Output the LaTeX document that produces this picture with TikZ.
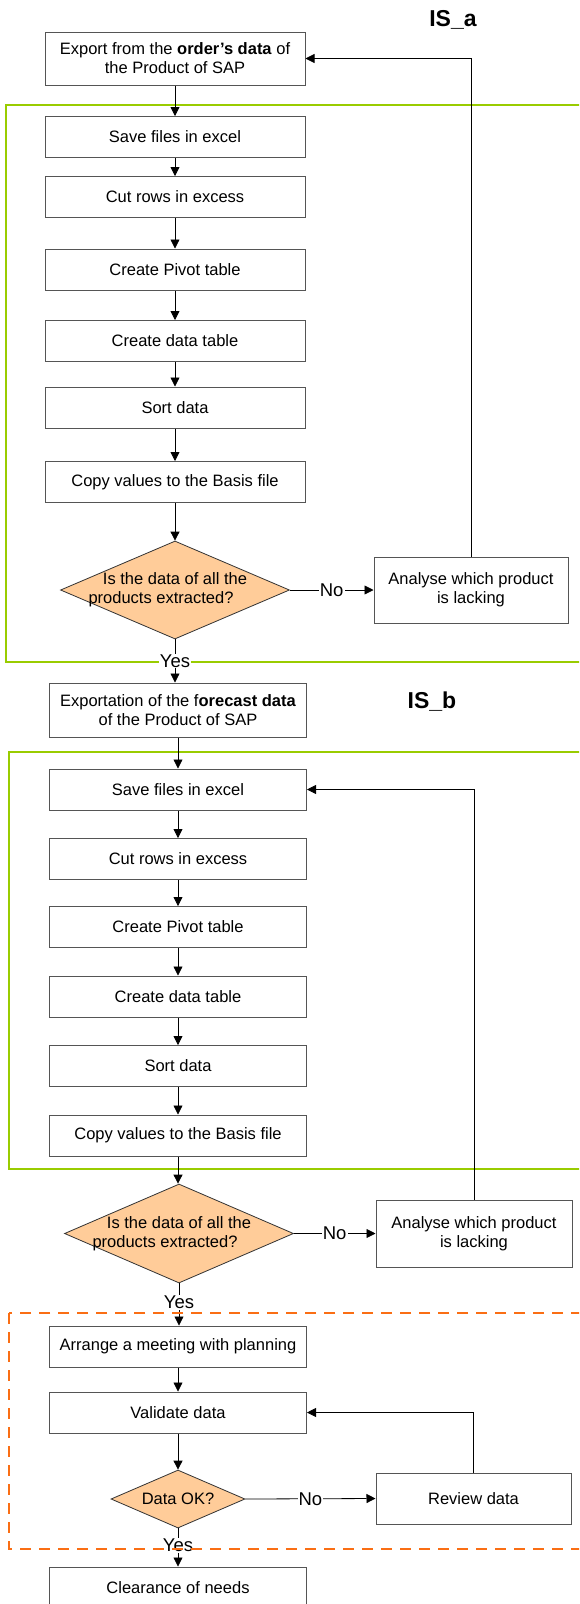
\documentclass[tikz,border=0pt]{standalone}
\usepackage{fontspec}
\setmainfont{Liberation Sans}
\usetikzlibrary{shapes.geometric,arrows.meta}
\definecolor{grn}{RGB}{153,204,0}
\definecolor{org}{RGB}{250,110,20}
\definecolor{peach}{RGB}{255,204,153}
\definecolor{boxline}{RGB}{85,85,85}
\begin{document}
\begin{tikzpicture}[x=1pt,y=-1pt,
  every node/.style={font=\fontsize{16.5}{19}\selectfont, inner sep=0pt},
  procbox/.style={draw=boxline, line width=1pt, minimum height=41pt, align=center, fill=white},
  boxa/.style={procbox, minimum width=260pt},
  boxb/.style={procbox, minimum width=257pt},
  decbox/.style={diamond, draw=black!80, fill=peach, line width=0.8pt},
  arr/.style={draw=black, line width=0.8pt, -{Triangle[length=9pt,width=9pt]}},
  lab/.style={fill=white, inner sep=1pt, font=\fontsize{18.5}{20}\selectfont},
  ttl/.style={font=\fontsize{23}{26}\selectfont\bfseries},
  grnbox/.style={draw=grn, line width=1.6pt},
  orgbox/.style={draw=org, line width=2pt, dash pattern=on 11pt off 8pt}
]
\fill[white] (0,0) rectangle (579,1604);
\clip (0,0) rectangle (579,1604);
\useasboundingbox (0,0) rectangle (579,1604);

% containers
\draw[grnbox] (6,105) rectangle (620,662);
\draw[grnbox] (9,752) rectangle (620,1169);

% titles
\node[ttl] (isa) at (453,20) {IS\_a};
\node[ttl] (isb) at (432,702) {IS\_b};

% section IS_a
\node[boxa, minimum height=53pt] (a0) at (175,58.5) {Export from the \textbf{order's data} of\\the Product of SAP};
\node[boxa] (a1) at (175,137) {Save files in excel};
\node[boxa] (a2) at (175,197) {Cut rows in excess};
\node[boxa] (a3) at (175,269.5) {Create Pivot table};
\node[boxa] (a4) at (175,341) {Create data table};
\node[boxa] (a5) at (175,407.5) {Sort data};
\node[boxa] (a6) at (175,482) {Copy values to the Basis file};
\node[decbox, minimum width=229pt, minimum height=98pt,
  label={[align=center]center:Is the data of all the\\products extracted?\hspace*{28pt}}] (da) at (175,590) {};
\node[procbox, minimum width=194pt, minimum height=66pt] (na) at (471,590) {Analyse which product\\is lacking};

% section IS_b
\node[boxb, minimum height=54pt] (b0) at (178,710) {Exportation of the f\textbf{orecast data}\\of the Product of SAP};
\node[boxb] (b1) at (178,789.5) {Save files in excel};
\node[boxb] (b2) at (178,859) {Cut rows in excess};
\node[boxb] (b3) at (178,927) {Create Pivot table};
\node[boxb] (b4) at (178,996.5) {Create data table};
\node[boxb] (b5) at (178,1066) {Sort data};
\node[boxb] (b6) at (178,1135.5) {Copy values to the Basis file};
\node[decbox, minimum width=229pt, minimum height=99pt,
  label={[align=center]center:Is the data of all the\\products extracted?\hspace*{28pt}}] (db) at (179,1233.5) {};
\node[procbox, minimum width=196pt, minimum height=67pt] (nb) at (474,1233.5) {Analyse which product\\is lacking};

% section 3
\node[boxb] (c1) at (178,1346.5) {Arrange a meeting with planning};
\node[boxb] (c2) at (178,1412.5) {Validate data};
\node[decbox, minimum width=134pt, minimum height=58pt, label={center:Data OK?}] (dc) at (178,1499) {};
\node[procbox, minimum width=195pt, minimum height=51pt] (nc) at (473.5,1498.5) {Review data};
\node[boxb, minimum height=42pt] (c3) at (178,1588) {Clearance of needs};

% connectors IS_a
\draw[arr] (a0.south) -- (a1.north);
\draw[arr] (a1.south) -- (a2.north);
\draw[arr] (a2.south) -- (a3.north);
\draw[arr] (a3.south) -- (a4.north);
\draw[arr] (a4.south) -- (a5.north);
\draw[arr] (a5.south) -- (a6.north);
\draw[arr] (a6.south) -- (da.north);
\draw[arr] (da.east) -- node[lab] {No} (na.west);
\draw[arr] (na.north) |- (a0.east);
\draw[arr] (da.south) -- node[lab] {Yes} (da.south |- b0.north);

% connectors IS_b
\draw[arr] (b0.south) -- (b1.north);
\draw[arr] (b1.south) -- (b2.north);
\draw[arr] (b2.south) -- (b3.north);
\draw[arr] (b3.south) -- (b4.north);
\draw[arr] (b4.south) -- (b5.north);
\draw[arr] (b5.south) -- (b6.north);
\draw[arr] (b6.south) -- (b6.south |- db.north);
\draw[arr] (db.east) -- node[lab] {No} (nb.west);
\draw[arr] (nb.north) |- (b1.east);
\draw[arr] (db.south) -- node[lab, pos=0.45] {Yes} (db.south |- c1.north);

% connectors section 3
\draw[arr] (c1.south) -- (c2.north);
\draw[arr] (c2.south) -- (dc.north);
\draw[arr] (dc.east) -- node[lab] {No} (nc.west);
\draw[arr] (nc.north) |- (c2.east);
\draw[arr] (dc.south) -- node[lab, pos=0.45] {Yes} (c3.north);

\draw[orgbox] (9,1313) rectangle (620,1549);
\end{tikzpicture}
\end{document}
